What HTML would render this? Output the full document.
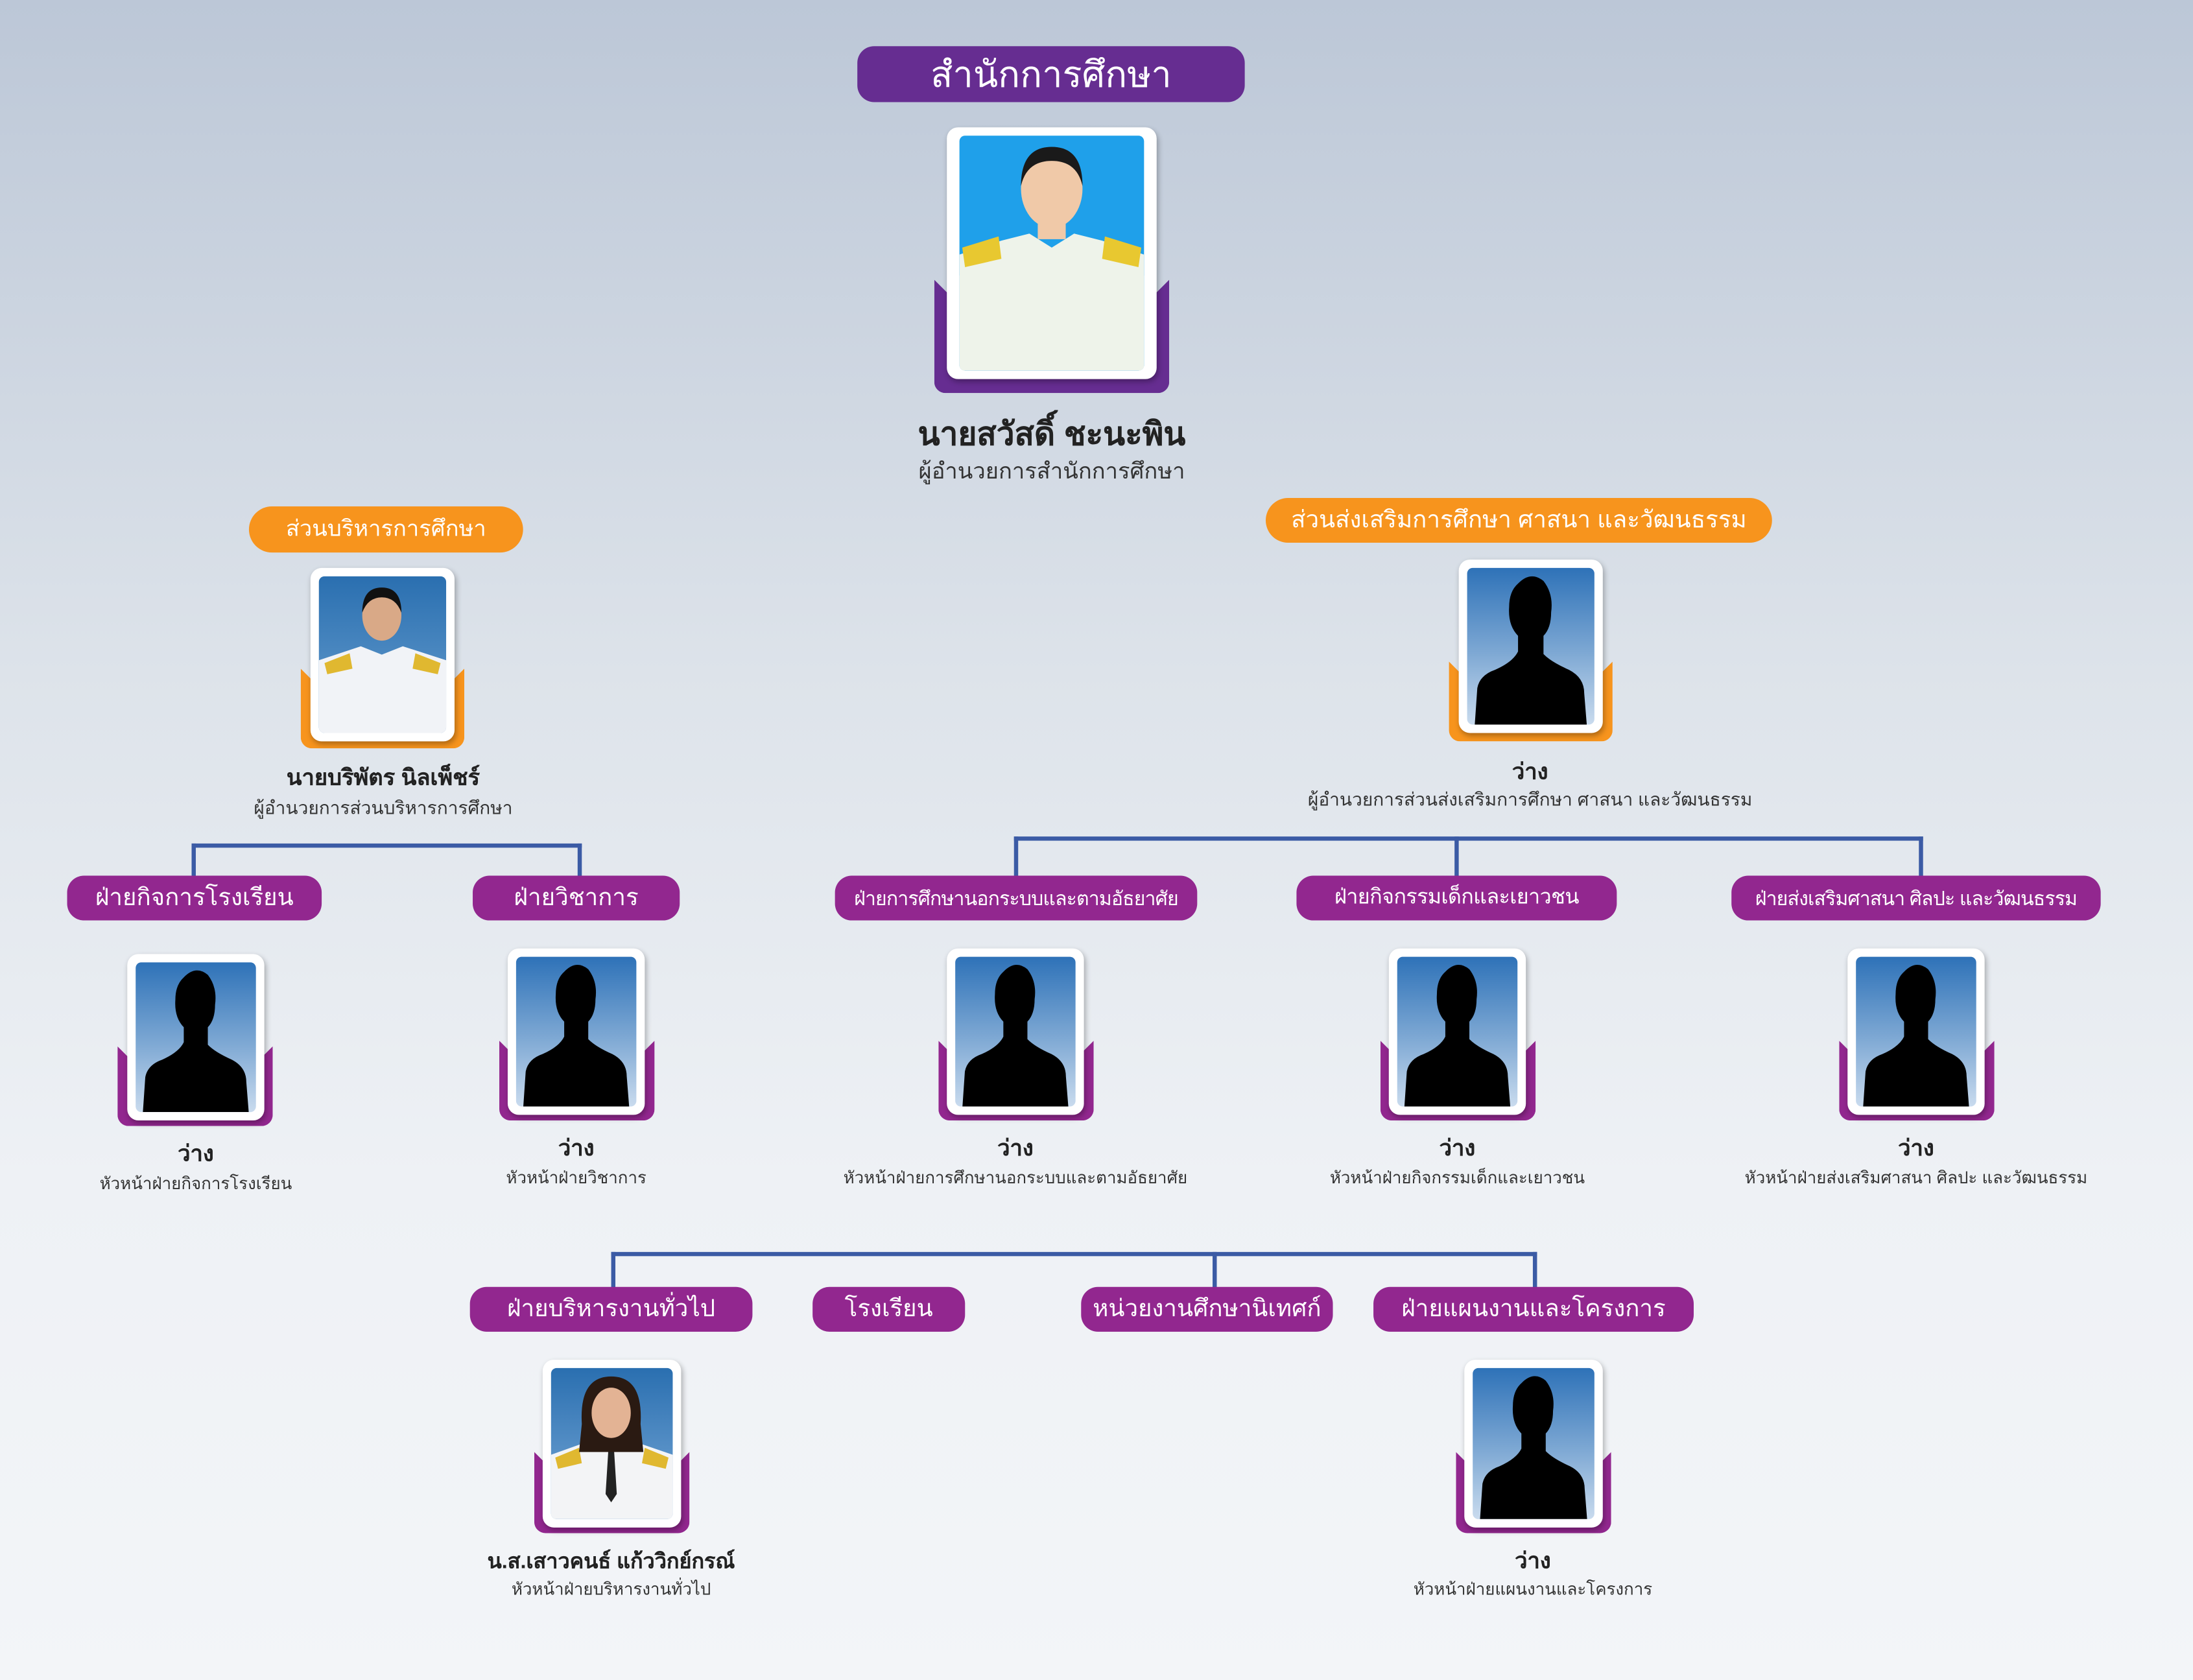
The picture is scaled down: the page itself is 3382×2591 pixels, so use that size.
<!DOCTYPE html>
<html><head><meta charset="utf-8">
<style>
html,body{margin:0;padding:0;}
body{width:3382px;height:2591px;overflow:hidden;background:linear-gradient(180deg,#bcc7d7 0%,#dde3ea 40%,#eef1f5 70%,#f3f5f8 100%);font-family:"Liberation Sans","DejaVu Sans",sans-serif;}
#s{position:absolute;left:0;top:0;width:1568px;height:1201px;transform:scale(2.15689,2.15737);transform-origin:0 0;}
.lab{position:absolute;color:#fff;text-align:center;border-radius:12px;white-space:nowrap;overflow:hidden;}
.p{background:#662d91;}
.m{background:#92278f;}
.o{background:#f7941d;border-radius:17px;}
.tray{position:absolute;clip-path:polygon(0 0,14px 14px,calc(100% - 14px) 14px,100% 0,100% 100%,0 100%);border-radius:0 0 8px 8px;}
.fr{position:absolute;background:#fff;border-radius:8px;box-shadow:1px 2px 4px rgba(0,0,0,.3);}
.ph{position:absolute;left:6px;top:6px;right:6px;bottom:6px;border-radius:4px;overflow:hidden;}
.sil{background:linear-gradient(180deg,#2e72b8 0%,#7fa9d4 55%,#c9dbee 100%);}
.sil svg{position:absolute;left:0;top:0;width:100%;height:100%;}
.nm{position:absolute;text-align:center;font-weight:bold;color:#222;white-space:nowrap;}
.tt{position:absolute;text-align:center;color:#333;white-space:nowrap;}
.ln{position:absolute;background:#3b5ba5;}
</style></head><body><div id="s">

<div class="lab p" style="left:613px;top:33px;width:277px;height:40px;line-height:40px;font-size:26px;">สำนักการศึกษา</div>
<div class="tray" style="left:668px;top:200px;width:168px;height:81px;background:#662d91;"></div>
<div class="fr" style="left:677px;top:91px;width:150px;height:180px;">
 <div class="ph" style="left:9px;top:6px;right:9px;bottom:6px;background:#1fa0ea;">
  <svg viewBox="0 0 132 168" width="100%" height="100%" preserveAspectRatio="none">
   <rect x="0" y="100" width="132" height="68" fill="#e9f0e6"/>
   <path d="M0 85 L30 75 L50 70 L66 80 L82 70 L102 75 L132 85 L132 168 L0 168Z" fill="#eef3ea"/>
   <path d="M2 80 L28 72 L30 88 L4 94Z" fill="#e8c830"/>
   <path d="M104 72 L130 80 L128 94 L102 88Z" fill="#e8c830"/>
   <ellipse cx="66" cy="38" rx="22" ry="28" fill="#f0c9a8"/>
   <path d="M44 36 Q44 8 66 8 Q88 8 88 36 Q84 18 66 18 Q48 18 44 36Z" fill="#1a1a1a"/>
   <rect x="56" y="60" width="20" height="14" fill="#f0c9a8"/>
  </svg>
 </div>
</div>
<div class="nm" style="left:552px;top:293px;width:400px;font-size:23px;">นายสวัสดิ์ ชะนะพิน</div>
<div class="tt" style="left:552px;top:325px;width:400px;font-size:16px;">ผู้อำนวยการสำนักการศึกษา</div>

<div class="lab o" style="left:178px;top:362px;width:196px;height:33px;line-height:33px;font-size:16px;">ส่วนบริหารการศึกษา</div>
<div class="tray" style="left:215px;top:478px;width:117px;height:57px;background:#f7941d;"></div>
<div class="fr" style="left:222px;top:406px;width:103px;height:124px;">
 <div class="ph" style="background:linear-gradient(180deg,#2a6fb0,#6aa0d0);">
  <svg viewBox="0 0 91 112" width="100%" height="100%" preserveAspectRatio="none">
   <path d="M0 60 L30 50 L45 56 L60 50 L91 60 L91 112 L0 112Z" fill="#f1f3f7"/>
   <path d="M4 62 L22 55 L24 66 L6 70Z M69 55 L87 62 L85 70 L67 66Z" fill="#e0b830"/>
   <ellipse cx="45" cy="28" rx="14" ry="18" fill="#d9a987"/>
   <path d="M31 26 Q31 8 45 8 Q59 8 59 26 Q55 15 45 15 Q35 15 31 26Z" fill="#111"/>
  </svg>
 </div>
</div>
<div class="nm" style="left:124px;top:544px;width:300px;font-size:16px;">นายบริพัตร นิลเพ็ชร์</div>
<div class="tt" style="left:124px;top:567px;width:300px;font-size:13px;">ผู้อำนวยการส่วนบริหารการศึกษา</div>

<div class="lab o" style="left:905px;top:356px;width:362px;height:32px;line-height:32px;font-size:17px;">ส่วนส่งเสริมการศึกษา ศาสนา และวัฒนธรรม</div>
<div class="tray" style="left:1036px;top:473px;width:117px;height:57px;background:#f7941d;"></div>
<div class="fr" style="left:1043px;top:400px;width:103px;height:124px;"><div class="ph sil"><svg viewBox="0 0 100 120" preserveAspectRatio="none"><path d="M40 12 Q50 2 60 10 Q68 20 66 34 Q66 46 60 52 L60 66 Q66 72 80 78 Q92 84 92 96 L94 120 L6 120 L8 92 Q10 82 22 78 Q36 72 40 64 L40 52 Q32 44 33 30 Q33 18 40 12Z" fill="#000"/></svg></div></div>
<div class="nm" style="left:944px;top:540px;width:300px;font-size:16px;">ว่าง</div>
<div class="tt" style="left:894px;top:561px;width:400px;font-size:13px;">ผู้อำนวยการส่วนส่งเสริมการศึกษา ศาสนา และวัฒนธรรม</div>

<div class="ln" style="left:137px;top:603px;width:279px;height:3px;"></div>
<div class="ln" style="left:137px;top:603px;width:3px;height:24px;"></div>
<div class="ln" style="left:413px;top:603px;width:3px;height:24px;"></div>
<div class="ln" style="left:725px;top:598px;width:650px;height:3px;"></div>
<div class="ln" style="left:725px;top:598px;width:3px;height:29px;"></div>
<div class="ln" style="left:1040px;top:598px;width:3px;height:29px;"></div>
<div class="ln" style="left:1372px;top:598px;width:3px;height:29px;"></div>

<div class="lab m" style="left:48px;top:626px;width:182px;height:32px;line-height:32px;font-size:17px;">ฝ่ายกิจการโรงเรียน</div>
<div class="lab m" style="left:338px;top:626px;width:148px;height:32px;line-height:32px;font-size:17px;">ฝ่ายวิชาการ</div>
<div class="lab m" style="left:597px;top:626px;width:259px;height:32px;line-height:32px;font-size:14px;letter-spacing:-0.4px;">ฝ่ายการศึกษานอกระบบและตามอัธยาศัย</div>
<div class="lab m" style="left:927px;top:626px;width:229px;height:32px;line-height:32px;font-size:15px;letter-spacing:-0.3px;">ฝ่ายกิจกรรมเด็กและเยาวชน</div>
<div class="lab m" style="left:1238px;top:626px;width:264px;height:32px;line-height:32px;font-size:14px;letter-spacing:-0.4px;">ฝ่ายส่งเสริมศาสนา ศิลปะ และวัฒนธรรม</div>

<div class="tray" style="left:84px;top:748px;width:111px;height:57px;background:#92278f;"></div>
<div class="fr" style="left:91px;top:682px;width:98px;height:119px;"><div class="ph sil"><svg viewBox="0 0 100 120" preserveAspectRatio="none"><path d="M40 12 Q50 2 60 10 Q68 20 66 34 Q66 46 60 52 L60 66 Q66 72 80 78 Q92 84 92 96 L94 120 L6 120 L8 92 Q10 82 22 78 Q36 72 40 64 L40 52 Q32 44 33 30 Q33 18 40 12Z" fill="#000"/></svg></div></div>
<div class="nm" style="left:40px;top:813px;width:200px;font-size:16px;">ว่าง</div>
<div class="tt" style="left:10px;top:837px;width:260px;font-size:12px;">หัวหน้าฝ่ายกิจการโรงเรียน</div>

<div class="tray" style="left:357px;top:744px;width:111px;height:57px;background:#92278f;"></div>
<div class="fr" style="left:363px;top:678px;width:98px;height:119px;"><div class="ph sil"><svg viewBox="0 0 100 120" preserveAspectRatio="none"><path d="M40 12 Q50 2 60 10 Q68 20 66 34 Q66 46 60 52 L60 66 Q66 72 80 78 Q92 84 92 96 L94 120 L6 120 L8 92 Q10 82 22 78 Q36 72 40 64 L40 52 Q32 44 33 30 Q33 18 40 12Z" fill="#000"/></svg></div></div>
<div class="nm" style="left:312px;top:809px;width:200px;font-size:16px;">ว่าง</div>
<div class="tt" style="left:282px;top:833px;width:260px;font-size:12px;">หัวหน้าฝ่ายวิชาการ</div>

<div class="tray" style="left:671px;top:744px;width:111px;height:57px;background:#92278f;"></div>
<div class="fr" style="left:677px;top:678px;width:98px;height:119px;"><div class="ph sil"><svg viewBox="0 0 100 120" preserveAspectRatio="none"><path d="M40 12 Q50 2 60 10 Q68 20 66 34 Q66 46 60 52 L60 66 Q66 72 80 78 Q92 84 92 96 L94 120 L6 120 L8 92 Q10 82 22 78 Q36 72 40 64 L40 52 Q32 44 33 30 Q33 18 40 12Z" fill="#000"/></svg></div></div>
<div class="nm" style="left:626px;top:809px;width:200px;font-size:16px;">ว่าง</div>
<div class="tt" style="left:576px;top:833px;width:300px;font-size:12px;">หัวหน้าฝ่ายการศึกษานอกระบบและตามอัธยาศัย</div>

<div class="tray" style="left:987px;top:744px;width:111px;height:57px;background:#92278f;"></div>
<div class="fr" style="left:993px;top:678px;width:98px;height:119px;"><div class="ph sil"><svg viewBox="0 0 100 120" preserveAspectRatio="none"><path d="M40 12 Q50 2 60 10 Q68 20 66 34 Q66 46 60 52 L60 66 Q66 72 80 78 Q92 84 92 96 L94 120 L6 120 L8 92 Q10 82 22 78 Q36 72 40 64 L40 52 Q32 44 33 30 Q33 18 40 12Z" fill="#000"/></svg></div></div>
<div class="nm" style="left:942px;top:809px;width:200px;font-size:16px;">ว่าง</div>
<div class="tt" style="left:892px;top:833px;width:300px;font-size:12px;">หัวหน้าฝ่ายกิจกรรมเด็กและเยาวชน</div>

<div class="tray" style="left:1315px;top:744px;width:111px;height:57px;background:#92278f;"></div>
<div class="fr" style="left:1321px;top:678px;width:98px;height:119px;"><div class="ph sil"><svg viewBox="0 0 100 120" preserveAspectRatio="none"><path d="M40 12 Q50 2 60 10 Q68 20 66 34 Q66 46 60 52 L60 66 Q66 72 80 78 Q92 84 92 96 L94 120 L6 120 L8 92 Q10 82 22 78 Q36 72 40 64 L40 52 Q32 44 33 30 Q33 18 40 12Z" fill="#000"/></svg></div></div>
<div class="nm" style="left:1270px;top:809px;width:200px;font-size:16px;">ว่าง</div>
<div class="tt" style="left:1220px;top:833px;width:300px;font-size:12px;">หัวหน้าฝ่ายส่งเสริมศาสนา ศิลปะ และวัฒนธรรม</div>

<div class="ln" style="left:437px;top:895px;width:662px;height:3px;"></div>
<div class="ln" style="left:437px;top:895px;width:3px;height:26px;"></div>
<div class="ln" style="left:867px;top:895px;width:3px;height:26px;"></div>
<div class="ln" style="left:1096px;top:895px;width:3px;height:26px;"></div>

<div class="lab m" style="left:336px;top:920px;width:202px;height:32px;line-height:32px;font-size:17px;">ฝ่ายบริหารงานทั่วไป</div>
<div class="lab m" style="left:581px;top:920px;width:109px;height:32px;line-height:32px;font-size:17px;">โรงเรียน</div>
<div class="lab m" style="left:773px;top:920px;width:180px;height:32px;line-height:32px;font-size:17px;">หน่วยงานศึกษานิเทศก์</div>
<div class="lab m" style="left:982px;top:920px;width:229px;height:32px;line-height:32px;font-size:17px;">ฝ่ายแผนงานและโครงการ</div>

<div class="tray" style="left:382px;top:1038px;width:111px;height:58px;background:#92278f;"></div>
<div class="fr" style="left:388px;top:972px;width:99px;height:120px;">
 <div class="ph" style="background:linear-gradient(180deg,#2a6fb0,#7aaad8);">
  <svg viewBox="0 0 87 108" width="100%" height="100%" preserveAspectRatio="none">
   <path d="M0 62 L28 52 L43 58 L58 52 L87 62 L87 108 L0 108Z" fill="#f3f4f6"/>
   <path d="M41 58 L45 58 L47 90 L43 96 L39 90Z" fill="#222"/>
   <path d="M3 64 L20 57 L22 68 L5 72Z M67 57 L84 64 L82 72 L65 68Z" fill="#e0b830"/>
   <path d="M22 40 Q20 6 43 6 Q66 6 64 40 L66 60 L20 60Z" fill="#2a1a12"/>
   <ellipse cx="43" cy="32" rx="14" ry="18" fill="#e3b394"/>
  </svg>
 </div>
</div>
<div class="nm" style="left:287px;top:1104px;width:300px;font-size:15px;">น.ส.เสาวคนธ์ แก้ววิกย์กรณ์</div>
<div class="tt" style="left:287px;top:1127px;width:300px;font-size:12px;">หัวหน้าฝ่ายบริหารงานทั่วไป</div>

<div class="tray" style="left:1041px;top:1038px;width:111px;height:58px;background:#92278f;"></div>
<div class="fr" style="left:1047px;top:972px;width:99px;height:120px;"><div class="ph sil"><svg viewBox="0 0 100 120" preserveAspectRatio="none"><path d="M40 12 Q50 2 60 10 Q68 20 66 34 Q66 46 60 52 L60 66 Q66 72 80 78 Q92 84 92 96 L94 120 L6 120 L8 92 Q10 82 22 78 Q36 72 40 64 L40 52 Q32 44 33 30 Q33 18 40 12Z" fill="#000"/></svg></div></div>
<div class="nm" style="left:996px;top:1104px;width:200px;font-size:16px;">ว่าง</div>
<div class="tt" style="left:946px;top:1127px;width:300px;font-size:12px;">หัวหน้าฝ่ายแผนงานและโครงการ</div>

</div></body></html>
